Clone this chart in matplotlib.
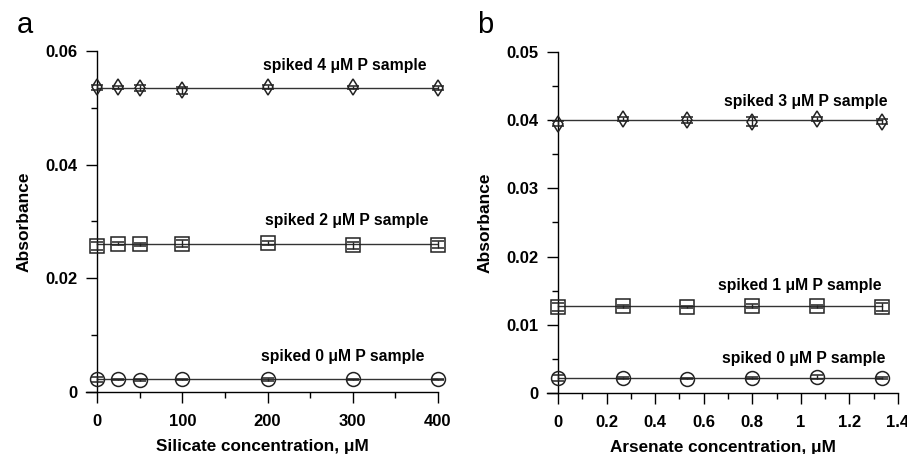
import matplotlib
matplotlib.use("Agg")
import matplotlib.pyplot as plt
from matplotlib.ticker import MultipleLocator, FuncFormatter

plt.rcParams['font.family'] = ['Liberation Sans', 'DejaVu Sans']
plt.rcParams['font.weight'] = 'bold'

# panel a: silicate interference
si_x = [0, 25, 50, 100, 200, 300, 400]
si_p4 = [0.0536, 0.0536, 0.0535, 0.0531, 0.0537, 0.0536, 0.0535]
si_p4_err = [0.0004, 0.0003, 0.0005, 0.0006, 0.0004, 0.0003, 0.0004]
si_p2 = [0.0257, 0.0261, 0.0260, 0.0261, 0.0262, 0.0258, 0.0259]
si_p2_err = [0.0007, 0.0003, 0.0003, 0.0006, 0.0004, 0.0006, 0.0006]
si_p0 = [0.0022, 0.0022, 0.0021, 0.0022, 0.0022, 0.0022, 0.0022]
si_p0_err = [0.0004, 0.0001, 0.0002, 0.0001, 0.0002, 0.0001, 0.0001]
si_fit = [0.0535, 0.0260, 0.0022]

# panel b: arsenate interference
as_x = [0, 0.267, 0.533, 0.8, 1.067, 1.333]
as_p3 = [0.0395, 0.0402, 0.0400, 0.0398, 0.0402, 0.0398]
as_p3_err = [0.0004, 0.0003, 0.0004, 0.0006, 0.0003, 0.0004]
as_p1 = [0.0126, 0.0127, 0.0126, 0.0127, 0.0127, 0.0126]
as_p1_err = [0.0006, 0.0002, 0.0001, 0.0003, 0.0002, 0.0006]
as_p0 = [0.0022, 0.0022, 0.0021, 0.0022, 0.0023, 0.0022]
as_p0_err = [0.0004, 0.0001, 0.0001, 0.0001, 0.0003, 0.0001]
as_fit = [0.0400, 0.0127, 0.0022]

labels_a = ['spiked 4 \u03bcM P sample', 'spiked 2 \u03bcM P sample', 'spiked 0 \u03bcM P sample']
labels_b = ['spiked 3 \u03bcM P sample', 'spiked 1 \u03bcM P sample', 'spiked 0 \u03bcM P sample']


def fmt(v, pos):
    if abs(v) < 1e-12:
        return '0'
    return ('%g' % v)


def draw_panel(ax, x, series, fits, labels, label_pos, xlim, ylim, xmaj, xmin, ymaj, ymin, xlabel):
    markers = ['d', 's', 'o']
    sizes = [8, 10, 10]
    for (y, e), m, ms, f in zip(series, markers, sizes, fits):
        ax.plot([x[0], x[-1]], [f, f], color='#333333', lw=1.0, zorder=2)
        ax.errorbar(x, y, yerr=e, fmt=m, ms=ms, mfc='none', mec='#222222', mew=1.1,
                    ecolor='#222222', elinewidth=1.0, capsize=4, capthick=1.0,
                    clip_on=False, zorder=3)
    for t, (tx, ty) in zip(labels, label_pos):
        ax.text(tx, ty, t, ha='center', va='center', fontsize=11.3, fontweight='bold')
    ax.set_xlim(*xlim)
    ax.set_ylim(*ylim)
    ax.spines['left'].set_position(('data', 0))
    ax.spines['bottom'].set_position(('data', 0))
    ax.spines['top'].set_visible(False)
    ax.spines['right'].set_visible(False)
    for s in ('left', 'bottom'):
        ax.spines[s].set_linewidth(1.0)
    ax.xaxis.set_major_locator(MultipleLocator(xmaj))
    ax.xaxis.set_minor_locator(MultipleLocator(xmin))
    ax.yaxis.set_major_locator(MultipleLocator(ymaj))
    ax.yaxis.set_minor_locator(MultipleLocator(ymin))
    ax.xaxis.set_major_formatter(FuncFormatter(fmt))
    ax.yaxis.set_major_formatter(FuncFormatter(fmt))
    ax.tick_params(axis='both', which='major', direction='out', length=8, width=1.0,
                   labelsize=12)
    ax.tick_params(axis='x', which='major', pad=8)
    ax.tick_params(axis='y', which='major', pad=6)
    ax.tick_params(axis='both', which='minor', direction='out', length=4, width=1.0)
    ax.set_xlabel(xlabel, fontsize=12.3, fontweight='bold', labelpad=7)
    ax.set_ylabel('Absorbance', fontsize=12.5, fontweight='bold', labelpad=10)


fig = plt.figure(figsize=(9.07, 4.54), dpi=100)
ax_a = fig.add_axes([0.0948, 0.1366, 0.3881, 0.7511])
ax_b = fig.add_axes([0.6031, 0.1344, 0.3870, 0.7511])

draw_panel(ax_a, si_x,
           [(si_p4, si_p4_err), (si_p2, si_p2_err), (si_p0, si_p0_err)],
           si_fit, labels_a, [(291, 0.0575), (293, 0.0302), (288, 0.0062)],
           (-13, 400), (0, 0.06), 100, 50, 0.02, 0.01,
           'Silicate concentration, \u03bcM')
draw_panel(ax_b, as_x,
           [(as_p3, as_p3_err), (as_p1, as_p1_err), (as_p0, as_p0_err)],
           as_fit, labels_b, [(1.02, 0.0427), (0.997, 0.0158), (1.012, 0.0050)],
           (-0.045, 1.4), (0, 0.05), 0.2, 0.1, 0.01, 0.005,
           'Arsenate concentration, \u03bcM')

fig.text(0.027, 0.945, 'a', fontsize=21, fontweight='normal', ha='center', va='center')
fig.text(0.535, 0.945, 'b', fontsize=21, fontweight='normal', ha='center', va='center')

fig.savefig('out.png', dpi=100)
